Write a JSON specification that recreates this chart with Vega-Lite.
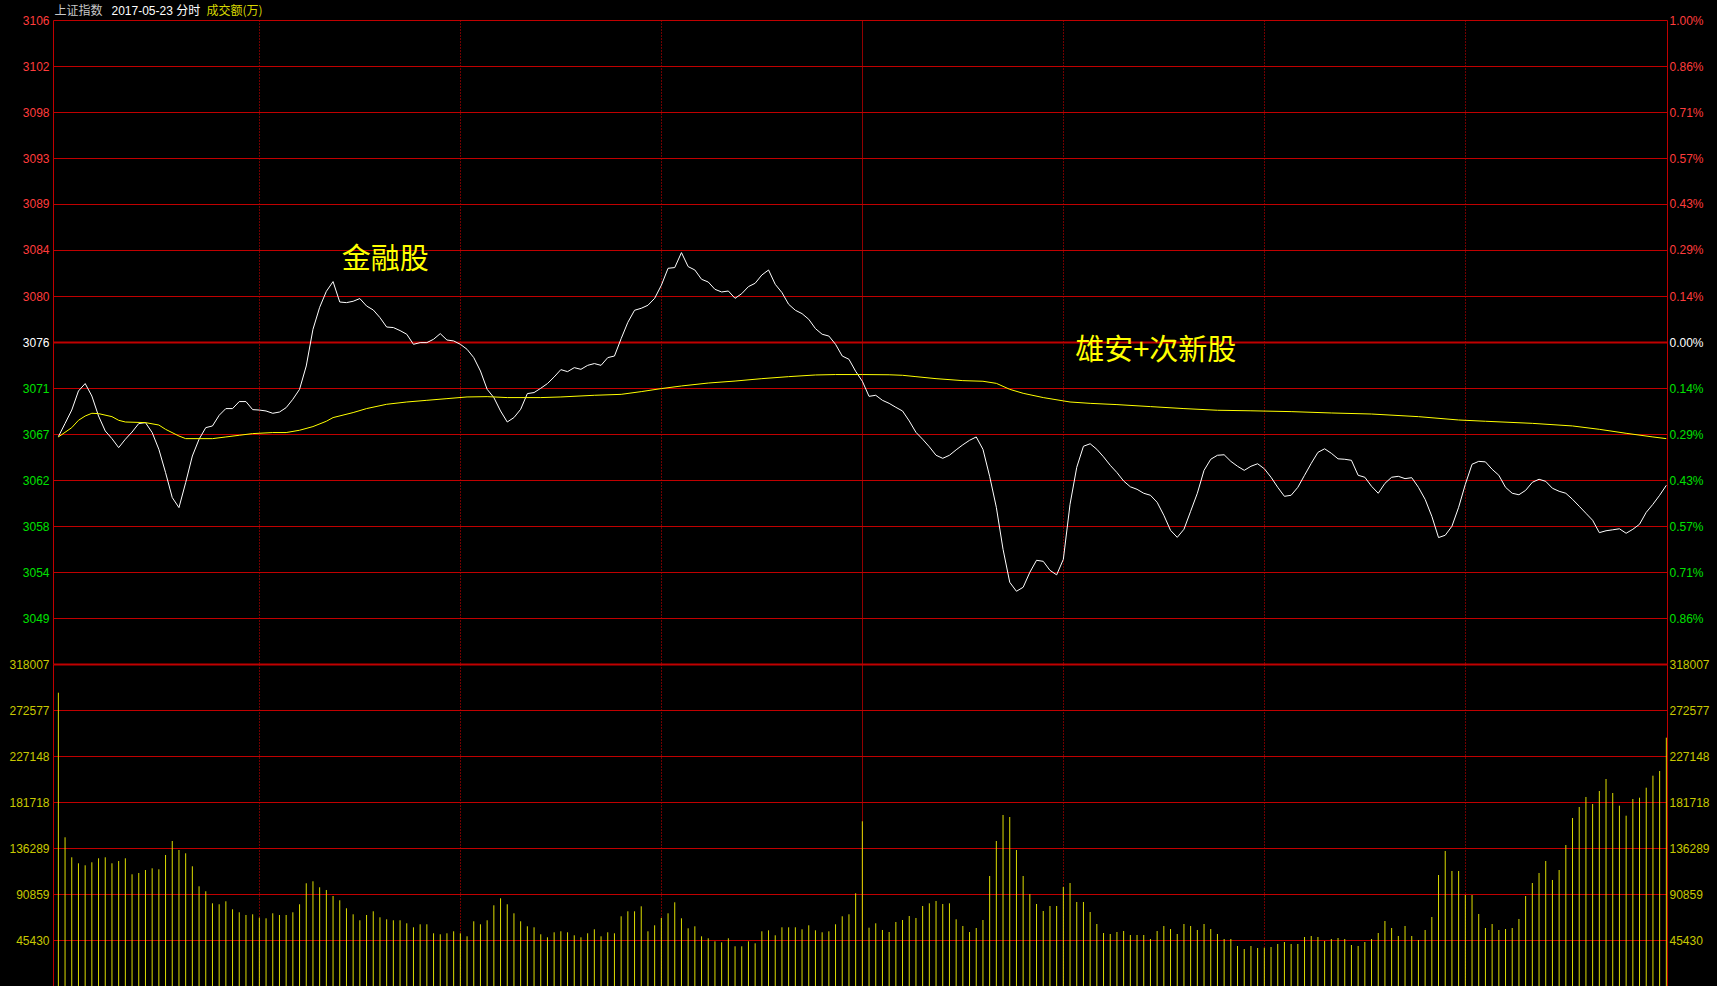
{
  "$schema": "https://vega.github.io/schema/vega-lite/v6.json",
  "background": "#000000",
  "padding": {"left": 8, "top": 4, "right": 9, "bottom": 0},
  "spacing": 0,
  "bounds": "flush",
  "datasets": {
    "m": [
      {"t":0,"p":3066.64,"v":289660},{"t":1,"p":3067.90,"v":146860},{"t":2,"p":3069.18,"v":127100},{"t":3,"p":3071.00,"v":121180},{"t":4,"p":3071.71,"v":119200},
      {"t":5,"p":3070.52,"v":122170},{"t":6,"p":3068.61,"v":126120},{"t":7,"p":3067.18,"v":127100},{"t":8,"p":3066.45,"v":121180},{"t":9,"p":3065.59,"v":123450},
      {"t":10,"p":3066.39,"v":126120},{"t":11,"p":3067.08,"v":110310},{"t":12,"p":3067.89,"v":111600},{"t":13,"p":3067.98,"v":114560},{"t":14,"p":3067.03,"v":116240},
      {"t":15,"p":3065.43,"v":115250},{"t":16,"p":3063.21,"v":129380},{"t":17,"p":3060.82,"v":143200},{"t":18,"p":3059.86,"v":134310},{"t":19,"p":3062.25,"v":131050},
      {"t":20,"p":3064.79,"v":118220},{"t":21,"p":3066.39,"v":98460},{"t":22,"p":3067.50,"v":93530},{"t":23,"p":3067.66,"v":81670},{"t":24,"p":3068.68,"v":80690},
      {"t":25,"p":3069.32,"v":83650},{"t":26,"p":3069.32,"v":75750},{"t":27,"p":3069.99,"v":72790},{"t":28,"p":3069.99,"v":70120},{"t":29,"p":3069.22,"v":70810},
      {"t":30,"p":3069.18,"v":67450},{"t":31,"p":3069.09,"v":66860},{"t":32,"p":3068.87,"v":71800},{"t":33,"p":3068.99,"v":70120},{"t":34,"p":3069.41,"v":70120},
      {"t":35,"p":3070.21,"v":72790},{"t":36,"p":3071.16,"v":80690},{"t":37,"p":3073.39,"v":101430},{"t":38,"p":3076.89,"v":103400},{"t":39,"p":3078.99,"v":97480},
      {"t":40,"p":3080.52,"v":94810},{"t":41,"p":3081.45,"v":88880},{"t":42,"p":3079.50,"v":84640},{"t":43,"p":3079.44,"v":76740},{"t":44,"p":3079.57,"v":70810},
      {"t":45,"p":3079.83,"v":64890},{"t":46,"p":3079.12,"v":70120},{"t":47,"p":3078.74,"v":73770},{"t":48,"p":3078.01,"v":67850},{"t":49,"p":3077.11,"v":65870},
      {"t":50,"p":3077.06,"v":64890},{"t":51,"p":3076.77,"v":64890},{"t":52,"p":3076.42,"v":61920},{"t":53,"p":3075.46,"v":57970},{"t":54,"p":3075.62,"v":60930},
      {"t":55,"p":3075.62,"v":60930},{"t":56,"p":3075.94,"v":52050},{"t":57,"p":3076.48,"v":51060},{"t":58,"p":3075.87,"v":52050},{"t":59,"p":3075.78,"v":54020},
      {"t":60,"p":3075.46,"v":52050},{"t":61,"p":3074.98,"v":49080},{"t":62,"p":3074.19,"v":63900},{"t":63,"p":3072.91,"v":60930},{"t":64,"p":3071.16,"v":64890},
      {"t":65,"p":3070.37,"v":79700},{"t":66,"p":3069.09,"v":86610},{"t":67,"p":3068.04,"v":80690},{"t":68,"p":3068.46,"v":71800},{"t":69,"p":3069.25,"v":63900},
      {"t":70,"p":3070.75,"v":58960},{"t":71,"p":3070.85,"v":57970},{"t":72,"p":3071.26,"v":51060},{"t":73,"p":3071.71,"v":48100},{"t":74,"p":3072.34,"v":53030},
      {"t":75,"p":3073.04,"v":54020},{"t":76,"p":3072.85,"v":53030},{"t":77,"p":3073.23,"v":50070},{"t":78,"p":3073.07,"v":48100},{"t":79,"p":3073.45,"v":52050},
      {"t":80,"p":3073.62,"v":56000},{"t":81,"p":3073.45,"v":49080},{"t":82,"p":3074.19,"v":53030},{"t":83,"p":3074.34,"v":52050},{"t":84,"p":3076.00,"v":68840},
      {"t":85,"p":3077.56,"v":73770},{"t":86,"p":3078.71,"v":73770},{"t":87,"p":3078.90,"v":78710},{"t":88,"p":3079.19,"v":54020},{"t":89,"p":3079.85,"v":59950},
      {"t":90,"p":3081.10,"v":67160},{"t":91,"p":3082.72,"v":71800},{"t":92,"p":3082.79,"v":82660},{"t":93,"p":3084.22,"v":66860},{"t":94,"p":3082.88,"v":56990},
      {"t":95,"p":3082.56,"v":58960},{"t":96,"p":3081.67,"v":49080},{"t":97,"p":3081.41,"v":47110},{"t":98,"p":3080.71,"v":44150},{"t":99,"p":3080.46,"v":43160},
      {"t":100,"p":3080.55,"v":47110},{"t":101,"p":3079.85,"v":39210},{"t":102,"p":3080.30,"v":39210},{"t":103,"p":3080.97,"v":44150},{"t":104,"p":3081.29,"v":42170},
      {"t":105,"p":3082.08,"v":54020},{"t":106,"p":3082.56,"v":55010},{"t":107,"p":3081.19,"v":50070},{"t":108,"p":3080.40,"v":57970},{"t":109,"p":3079.28,"v":57970},
      {"t":110,"p":3078.71,"v":57970},{"t":111,"p":3078.39,"v":56000},{"t":112,"p":3077.85,"v":59950},{"t":113,"p":3076.96,"v":55010},{"t":114,"p":3076.42,"v":53030},
      {"t":115,"p":3076.25,"v":54020},{"t":116,"p":3075.46,"v":60930},{"t":117,"p":3074.34,"v":68840},{"t":118,"p":3074.03,"v":70810},{"t":119,"p":3072.88,"v":91550},
      {"t":120,"p":3071.93,"v":162660},{"t":121,"p":3070.49,"v":57580},{"t":122,"p":3070.59,"v":61920},{"t":123,"p":3070.11,"v":55310},{"t":124,"p":3069.82,"v":53330},
      {"t":125,"p":3069.44,"v":63210},{"t":126,"p":3069.09,"v":65180},{"t":127,"p":3068.14,"v":69130},{"t":128,"p":3067.05,"v":67160},{"t":129,"p":3066.39,"v":79010},
      {"t":130,"p":3065.67,"v":81670},{"t":131,"p":3064.86,"v":83950},{"t":132,"p":3064.57,"v":80980},{"t":133,"p":3064.86,"v":81670},{"t":134,"p":3065.38,"v":65870},
      {"t":135,"p":3065.86,"v":59260},{"t":136,"p":3066.29,"v":53330},{"t":137,"p":3066.61,"v":57280},{"t":138,"p":3065.43,"v":65180},{"t":139,"p":3062.85,"v":108640},
      {"t":140,"p":3059.89,"v":143200},{"t":141,"p":3055.88,"v":168880},{"t":142,"p":3052.73,"v":166900},{"t":143,"p":3051.87,"v":134310},{"t":144,"p":3052.25,"v":108640},
      {"t":145,"p":3053.68,"v":90860},{"t":146,"p":3054.83,"v":80980},{"t":147,"p":3054.73,"v":74070},{"t":148,"p":3053.87,"v":79010},{"t":149,"p":3053.44,"v":79010},
      {"t":150,"p":3054.92,"v":97770},{"t":151,"p":3060.18,"v":101720},{"t":152,"p":3063.71,"v":82960},{"t":153,"p":3065.72,"v":82960},{"t":154,"p":3065.96,"v":73080},
      {"t":155,"p":3065.43,"v":61230},{"t":156,"p":3064.71,"v":52340},{"t":157,"p":3063.90,"v":51350},{"t":158,"p":3063.21,"v":53330},{"t":159,"p":3062.40,"v":54320},
      {"t":160,"p":3061.85,"v":50370},{"t":161,"p":3061.61,"v":50370},{"t":162,"p":3061.23,"v":50370},{"t":163,"p":3061.04,"v":46420},{"t":164,"p":3060.37,"v":54320},
      {"t":165,"p":3059.13,"v":59260},{"t":166,"p":3057.69,"v":56290},{"t":167,"p":3057.02,"v":51350},{"t":168,"p":3057.79,"v":61230},{"t":169,"p":3059.51,"v":59260},
      {"t":170,"p":3061.23,"v":55310},{"t":171,"p":3063.42,"v":61230},{"t":172,"p":3064.48,"v":56290},{"t":173,"p":3064.86,"v":51350},{"t":174,"p":3064.91,"v":46420},
      {"t":175,"p":3064.28,"v":46420},{"t":176,"p":3063.81,"v":39500},{"t":177,"p":3063.42,"v":36540},{"t":178,"p":3063.81,"v":39500},{"t":179,"p":3064.05,"v":37530},
      {"t":180,"p":3063.57,"v":37800},{"t":181,"p":3062.76,"v":38520},{"t":182,"p":3061.80,"v":41480},{"t":183,"p":3060.94,"v":43450},{"t":184,"p":3061.04,"v":41480},
      {"t":185,"p":3061.80,"v":41480},{"t":186,"p":3062.95,"v":48390},{"t":187,"p":3064.09,"v":49380},{"t":188,"p":3065.14,"v":48390},{"t":189,"p":3065.48,"v":44440},
      {"t":190,"p":3065.05,"v":46420},{"t":191,"p":3064.52,"v":47400},{"t":192,"p":3064.48,"v":46420},{"t":193,"p":3064.38,"v":40490},{"t":194,"p":3062.95,"v":39500},
      {"t":195,"p":3062.76,"v":43450},{"t":196,"p":3061.90,"v":46420},{"t":197,"p":3061.23,"v":52340},{"t":198,"p":3062.18,"v":64190},{"t":199,"p":3062.76,"v":57280},
      {"t":200,"p":3062.85,"v":49380},{"t":201,"p":3062.63,"v":59260},{"t":202,"p":3062.72,"v":49380},{"t":203,"p":3061.80,"v":45430},{"t":204,"p":3060.65,"v":55310},
      {"t":205,"p":3059.03,"v":68140},{"t":206,"p":3057.00,"v":109620},{"t":207,"p":3057.22,"v":133330},{"t":208,"p":3058.08,"v":113570},{"t":209,"p":3059.89,"v":113570},
      {"t":210,"p":3062.09,"v":89870},{"t":211,"p":3064.00,"v":89870},{"t":212,"p":3064.28,"v":71110},{"t":213,"p":3064.23,"v":57280},{"t":214,"p":3063.52,"v":61230},
      {"t":215,"p":3062.95,"v":55310},{"t":216,"p":3061.80,"v":56290},{"t":217,"p":3061.23,"v":57280},{"t":218,"p":3061.09,"v":66170},{"t":219,"p":3061.51,"v":88880},
      {"t":220,"p":3062.28,"v":101720},{"t":221,"p":3062.57,"v":111600},{"t":222,"p":3062.37,"v":123450},{"t":223,"p":3061.71,"v":104690},{"t":224,"p":3061.42,"v":114560},
      {"t":225,"p":3061.23,"v":139250},{"t":226,"p":3060.65,"v":165920},{"t":227,"p":3059.99,"v":176780},{"t":228,"p":3059.32,"v":186660},{"t":229,"p":3058.65,"v":179740},
      {"t":230,"p":3057.47,"v":192580},{"t":231,"p":3057.65,"v":204430},{"t":232,"p":3057.74,"v":190610},{"t":233,"p":3057.84,"v":178070},{"t":234,"p":3057.41,"v":168190},
      {"t":235,"p":3057.79,"v":184680},{"t":236,"p":3058.27,"v":185960},{"t":237,"p":3059.41,"v":195840},{"t":238,"p":3060.18,"v":207690},{"t":239,"p":3061.04,"v":212330},
      {"t":240,"p":3061.99,"v":245220}
    ],
    "avg": [
      {"t":0,"a":3066.61},{"t":2,"a":3067.50},{"t":3,"a":3068.20},{"t":4,"a":3068.61},{"t":5,"a":3068.87},{"t":6,"a":3068.84},{"t":8,"a":3068.55},{"t":9,"a":3068.20},
      {"t":10,"a":3068.04},{"t":13,"a":3067.98},{"t":15,"a":3067.75},{"t":16,"a":3067.34},{"t":18,"a":3066.70},{"t":19,"a":3066.45},{"t":23,"a":3066.45},{"t":25,"a":3066.61},
      {"t":27,"a":3066.77},{"t":29,"a":3066.93},{"t":32,"a":3067.03},{"t":34,"a":3067.03},{"t":36,"a":3067.25},{"t":38,"a":3067.60},{"t":40,"a":3068.11},{"t":41,"a":3068.46},
      {"t":44,"a":3068.94},{"t":46,"a":3069.32},{"t":49,"a":3069.73},{"t":52,"a":3069.95},{"t":55,"a":3070.11},{"t":58,"a":3070.27},{"t":61,"a":3070.43},{"t":64,"a":3070.46},
      {"t":67,"a":3070.37},{"t":72,"a":3070.37},{"t":75,"a":3070.43},{"t":80,"a":3070.59},{"t":84,"a":3070.68},{"t":87,"a":3070.94},{"t":90,"a":3071.23},{"t":93,"a":3071.48},
      {"t":97,"a":3071.76},{"t":101,"a":3071.95},{"t":105,"a":3072.18},{"t":109,"a":3072.37},{"t":113,"a":3072.53},{"t":116,"a":3072.57},{"t":120,"a":3072.57},{"t":124,"a":3072.55},
      {"t":126,"a":3072.50},{"t":128,"a":3072.37},{"t":131,"a":3072.18},{"t":135,"a":3071.99},{"t":138,"a":3071.93},{"t":140,"a":3071.73},{"t":142,"a":3071.16},{"t":144,"a":3070.78},
      {"t":147,"a":3070.37},{"t":151,"a":3069.95},{"t":154,"a":3069.82},{"t":158,"a":3069.70},{"t":163,"a":3069.51},{"t":168,"a":3069.32},{"t":173,"a":3069.16},{"t":178,"a":3069.11},
      {"t":184,"a":3069.03},{"t":190,"a":3068.90},{"t":196,"a":3068.80},{"t":203,"a":3068.55},{"t":209,"a":3068.23},{"t":213,"a":3068.11},{"t":220,"a":3067.91},{"t":226,"a":3067.66},
      {"t":230,"a":3067.34},{"t":234,"a":3066.96},{"t":238,"a":3066.61},{"t":240,"a":3066.45}
    ],
    "notes": [
      {"label": "金融股", "t": 48.8, "p": 3083.5},
      {"label": "雄安+次新股", "t": 163.8, "p": 3074.8}
    ]
  },
  "vconcat": [
    {
      "width": 1614,
      "height": 644,
      "layer": [
        {
          "data": {"name": "m"},
          "mark": {"type": "line", "color": "#ffffff", "strokeWidth": 1},
          "encoding": {
            "x": {"field": "t", "type": "quantitative", "scale": {"domain": [-0.8, 240.1], "nice": false, "zero": false},
                  "axis": {"values": [30, 60, 90, 120, 150, 180, 210], "title": null, "labels": false, "ticks": false, "domain": false, "grid": true,
                           "gridColor": {"condition": {"test": "datum.value === 120", "value": "#c00000"}, "value": "#e00000"},
                           "gridDash": {"condition": {"test": "datum.value === 120", "value": [1, 0]}, "value": [1, 2]}}},
            "y": {"field": "p", "type": "quantitative", "scale": {"domain": [3044.9232, 3106.4368], "nice": false, "zero": false},
                  "axis": {"orient": "left",
                           "values": [3106.4368, 3102.04297, 3097.64914, 3093.25531, 3088.86149, 3084.46766, 3080.07383, 3075.68, 3071.28617, 3066.89234, 3062.49851, 3058.10469, 3053.71086, 3049.31703],
                           "format": ".0f", "labelPadding": 4, "grid": true, "gridColor": "#c00000",
                           "gridWidth": {"condition": {"test": "abs(datum.value - 3075.68) < 0.01", "value": 2}, "value": 1},
                           "labelColor": {"condition": [{"test": "datum.value > 3076", "value": "#ff3c3c"}, {"test": "datum.value < 3075", "value": "#00e000"}], "value": "#ffffff"},
                           "title": "上证指数", "titleX": 1, "titleY": -15, "titleAngle": 0, "titleAlign": "left", "titleBaseline": "top",
                           "titleColor": "#c8c8c8", "titleFont": "Noto Sans CJK SC", "titleFontSize": 12, "titleFontWeight": "normal"}}
          }
        },
        {
          "data": {"name": "avg"},
          "mark": {"type": "line", "color": "#ffff00", "strokeWidth": 1},
          "encoding": {
            "x": {"field": "t", "type": "quantitative", "scale": {"domain": [-0.8, 240.1], "nice": false, "zero": false},
                  "axis": {"values": [30, 60, 90, 120, 150, 180, 210], "title": null, "labels": false, "ticks": false, "domain": false, "grid": true,
                           "gridColor": {"condition": {"test": "datum.value === 120", "value": "#c00000"}, "value": "#e00000"},
                           "gridDash": {"condition": {"test": "datum.value === 120", "value": [1, 0]}, "value": [1, 2]}}},
            "y": {"field": "a", "type": "quantitative", "scale": {"domain": [3044.9232, 3106.4368], "nice": false, "zero": false},
                  "axis": {"orient": "right",
                           "values": [3106.4368, 3102.04297, 3097.64914, 3093.25531, 3088.86149, 3084.46766, 3080.07383, 3075.68, 3071.28617, 3066.89234, 3062.49851, 3058.10469, 3053.71086, 3049.31703],
                           "labelExpr": "format(abs(datum.value / 3075.68 - 1) * 100, '.2f') + '%'",
                           "labelPadding": 2, "grid": false,
                           "labelColor": {"condition": [{"test": "datum.value > 3076", "value": "#ff3c3c"}, {"test": "datum.value < 3075", "value": "#00e000"}], "value": "#ffffff"},
                           "title": "2017-05-23 分时", "titleX": -1556, "titleY": -15, "titleAngle": 0, "titleAlign": "left", "titleBaseline": "top",
                           "titleColor": "#ffffff", "titleFont": "Liberation Sans, Noto Sans CJK SC", "titleFontSize": 12, "titleFontWeight": "normal"}}
          }
        },
        {
          "data": {"name": "notes"},
          "mark": {"type": "text", "font": "Noto Sans CJK SC", "fontSize": 29, "color": "#ffff00", "align": "center", "baseline": "middle"},
          "encoding": {
            "x": {"field": "t", "type": "quantitative", "scale": {"domain": [-0.8, 240.1], "nice": false, "zero": false},
                  "axis": {"values": [30, 60, 90, 120, 150, 180, 210], "title": null, "labels": false, "ticks": false, "domain": false, "grid": true,
                           "gridColor": {"condition": {"test": "datum.value === 120", "value": "#c00000"}, "value": "#e00000"},
                           "gridDash": {"condition": {"test": "datum.value === 120", "value": [1, 0]}, "value": [1, 2]}}},
            "y": {"field": "p", "type": "quantitative", "scale": {"domain": [3044.9232, 3106.4368], "nice": false, "zero": false}, "axis": null},
            "text": {"field": "label", "type": "nominal"}
          }
        }
      ],
      "resolve": {"scale": {"y": "shared"}, "axis": {"y": "independent"}}
    },
    {
      "width": 1614,
      "height": 322,
      "data": {"name": "m"},
      "layer": [
        {
          "mark": {"type": "rule", "color": "#dcdc00", "strokeWidth": 1},
          "encoding": {
            "x": {"field": "t", "type": "quantitative", "scale": {"domain": [-0.8, 240.1], "nice": false, "zero": false},
                  "axis": {"values": [30, 60, 90, 120, 150, 180, 210], "title": null, "labels": false, "ticks": false, "domain": false, "grid": true,
                           "gridColor": {"condition": {"test": "datum.value === 120", "value": "#c00000"}, "value": "#e00000"},
                           "gridDash": {"condition": {"test": "datum.value === 120", "value": [1, 0]}, "value": [1, 2]}}},
            "y": {"field": "v", "type": "quantitative", "scale": {"domain": [0, 318007], "nice": false, "zero": true},
                  "axis": {"orient": "left", "values": [45429.57, 90859.14, 136288.71, 181718.29, 227147.86, 272577.43, 318007],
                           "format": ".0f", "labelPadding": 4, "grid": true, "gridColor": "#c00000",
                           "gridWidth": {"condition": {"test": "datum.value > 318000", "value": 2}, "value": 1},
                           "labelColor": "#c8c800",
                           "title": "成交额(万)", "titleX": 153, "titleY": -659, "titleAngle": 0, "titleAlign": "left", "titleBaseline": "top",
                           "titleColor": "#d8d800", "titleFont": "Noto Sans CJK SC", "titleFontSize": 12, "titleFontWeight": "normal"}},
            "y2": {"datum": 0}
          }
        },
        {
          "mark": {"type": "rule", "color": "#dcdc00", "strokeWidth": 1, "opacity": 0},
          "encoding": {
            "x": {"field": "t", "type": "quantitative", "scale": {"domain": [-0.8, 240.1], "nice": false, "zero": false},
                  "axis": {"values": [30, 60, 90, 120, 150, 180, 210], "title": null, "labels": false, "ticks": false, "domain": false, "grid": true,
                           "gridColor": {"condition": {"test": "datum.value === 120", "value": "#c00000"}, "value": "#e00000"},
                           "gridDash": {"condition": {"test": "datum.value === 120", "value": [1, 0]}, "value": [1, 2]}}},
            "y": {"field": "v", "type": "quantitative", "scale": {"domain": [0, 318007], "nice": false, "zero": true},
                  "axis": {"orient": "right", "values": [45429.57, 90859.14, 136288.71, 181718.29, 227147.86, 272577.43, 318007],
                           "format": ".0f", "labelPadding": 2, "grid": false, "labelColor": "#c8c800", "title": null}},
            "y2": {"datum": 0}
          }
        }
      ],
      "resolve": {"scale": {"y": "shared"}, "axis": {"y": "independent"}}
    }
  ],
  "config": {
    "view": {"stroke": null},
    "axis": {
      "labelFont": "Liberation Sans",
      "labelFontSize": 12,
      "ticks": false,
      "tickSize": 0,
      "domainColor": "#c00000",
      "domainWidth": 1,
      "labelOverlap": false,
      "labelFlush": false,
      "labelBound": false,
      "gridOpacity": 1
    }
  }
}
